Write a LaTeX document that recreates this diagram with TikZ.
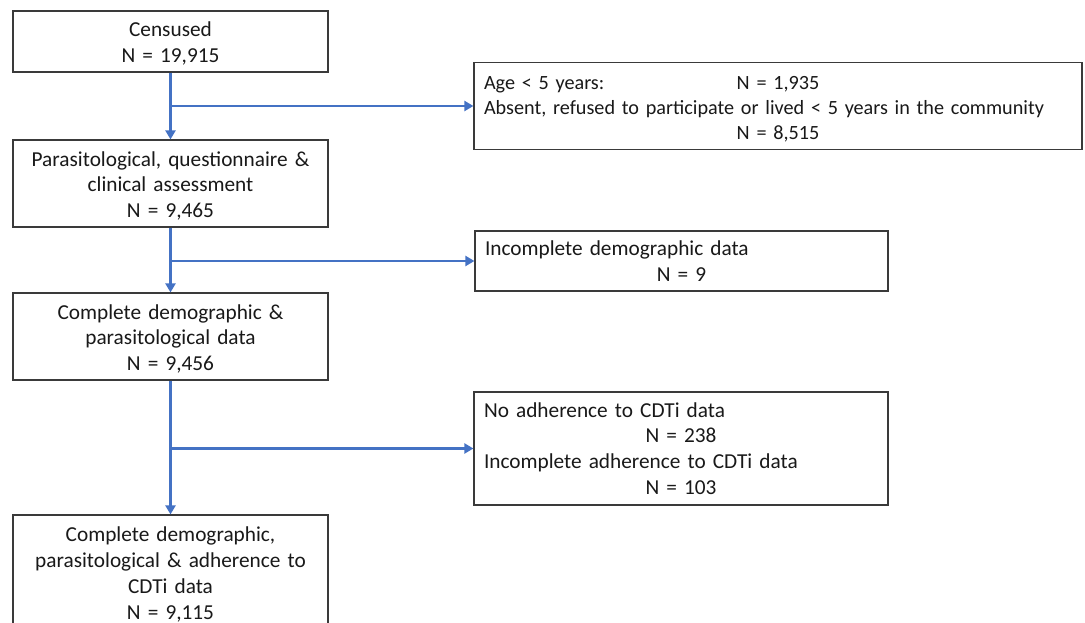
\documentclass[tikz,border=0pt]{standalone}
\usepackage{fontspec}
\setmainfont{Carlito}
\usetikzlibrary{arrows.meta}
\definecolor{flowblue}{HTML}{4472C4}
\definecolor{boxgray}{HTML}{3A3A3A}
\tikzset{
  basebox/.style={draw=boxgray, line width=1.2pt, fill=white, inner xsep=10pt, inner ysep=0pt,
    font=\fontsize{21.3}{25.8}\selectfont, text=black!90},
  mainbox/.style={basebox, text width=295pt, minimum height=#1, align=center,
    execute at begin node={\rule{0pt}{19.5pt}}},
  sidebox/.style 2 args={basebox, text width=#1, minimum height=#2, align=left},
  flow/.style={draw=flowblue, line width=2.7pt, -{Triangle[width=10pt,length=9pt]}}
}
\begin{document}
\begin{tikzpicture}[x=1pt,y=-1pt]
\useasboundingbox (0,0) rectangle (1085,623);
\clip (0,0) rectangle (1085,623);
\node[mainbox=61pt] (b1) at (170.5,41.5) {Censused\\N = 19,915};
\node[mainbox=87pt] (b2) at (170.5,183.5) {Parasitological, questionnaire \&\\clinical assessment\\N = 9,465};
\node[mainbox=87pt] (b3) at (170.5,336.5) {Complete demographic \&\\parasitological data\\N = 9,456};
\node[mainbox=114pt] (b4) at (170.5,572) {Complete demographic,\\parasitological \& adherence to\\CDTi data\\N = 9,115};
\node[sidebox={588pt}{87pt}, font=\fontsize{20.2}{25.2}\selectfont,
  execute at begin node={\rule{0pt}{20pt}}] (r1) at (778,106) {\rlap{Age < 5 years:}\makebox[\linewidth]{N = 1,935}\\Absent, refused to participate or lived < 5 years in the community\\\makebox[\linewidth]{N = 8,515}};
\node[sidebox={393pt}{60pt}] (r2) at (681.5,261) {Incomplete demographic data\\\makebox[\linewidth]{N = 9}};
\node[sidebox={394pt}{113pt}] (r3) at (681,448.5) {No adherence to CDTi data\\\makebox[\linewidth]{N = 238}\\Incomplete adherence to CDTi data\\\makebox[\linewidth]{N = 103}};
\coordinate (j1) at (b1.south |- r1.west);
\coordinate (j2) at (b2.south |- r2.west);
\coordinate (j3) at (b3.south |- r3.west);
\draw[flow] (b1.south) -- (b2.north);
\draw[flow] (j1) -- (r1.west);
\draw[flow] (b2.south) -- (b3.north);
\draw[flow] (j2) -- (r2.west);
\draw[flow] (b3.south) -- (b4.north);
\draw[flow] (j3) -- (r3.west);
\end{tikzpicture}
\end{document}
